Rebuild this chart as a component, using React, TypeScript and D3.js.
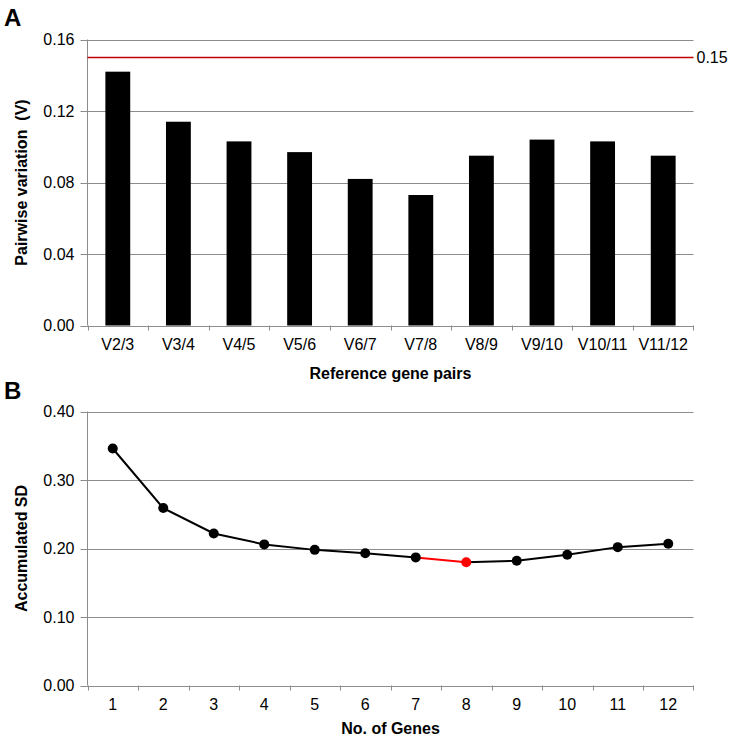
import React from "react";
import * as d3 from "d3";

const pairLabels = ["V2/3", "V3/4", "V4/5", "V5/6", "V6/7", "V7/8", "V8/9", "V9/10", "V10/11", "V11/12"];
const pairValues = [0.142, 0.114, 0.103, 0.097, 0.082, 0.073, 0.095, 0.104, 0.103, 0.095];
const threshold = 0.15;
const yTicksA = [0, 0.04, 0.08, 0.12, 0.16];

const geneCounts = [1, 2, 3, 4, 5, 6, 7, 8, 9, 10, 11, 12];
const accumulatedSD = [0.346, 0.259, 0.222, 0.206, 0.198, 0.193, 0.187, 0.18, 0.182, 0.191, 0.202, 0.207];
const optimalIndex = 7;
const yTicksB = [0, 0.1, 0.2, 0.3, 0.4];

const W = 733;
const H = 740;
const FONT = "'Liberation Sans', Arial, sans-serif";
const GRID = "#8c8c8c";
const FS = 16;

export default function App() {
  const left = 87.5;
  const right = 693.5;

  // Panel A
  const aTop = 39.5;
  const aBottom = 325.5;
  const xA = d3.scaleBand<string>().domain(pairLabels).range([left, right]).paddingInner(0.59).paddingOuter(0.295);
  const xAb = d3.scaleBand<string>().domain(pairLabels).range([left, right]);
  const yA = d3.scaleLinear().domain([0, 0.16]).range([aBottom, aTop]);

  // Panel B
  const bTop = 411.5;
  const bBottom = 685.5;
  const xB = d3.scaleBand<number>().domain(geneCounts).range([left, right]);
  const yB = d3.scaleLinear().domain([0, 0.4]).range([bBottom, bTop]);
  const cx = (g: number) => (xB(g) as number) + xB.bandwidth() / 2;
  const pts = geneCounts.map((g, i) => [cx(g), yB(accumulatedSD[i])] as [number, number]);
  const line = d3.line();

  return (
    <svg width={W} height={H} style={{ display: "block", position: "absolute", left: 0, top: 0, background: "#fff" }} fontFamily={FONT}>
      <rect x={0} y={0} width={W} height={H} fill="#fff" />
      {/* Panel A */}
      <text x={4} y={26} fontSize={24} fontWeight="bold">A</text>
      {yTicksA.map((t) => (
        <g key={"ga" + t}>
          <line x1={left - 7} x2={right} y1={Math.round(yA(t)) + 0.5} y2={Math.round(yA(t)) + 0.5} stroke={GRID} strokeWidth={1} />
          <text x={left - 13} y={yA(t) + 5.5} fontSize={FS} textAnchor="end">{t.toFixed(2)}</text>
        </g>
      ))}
      <line x1={left} x2={left} y1={aTop} y2={aBottom} stroke={GRID} />
      {pairLabels.map((p, i) => (
        <rect key={p} x={xA(p)} y={yA(pairValues[i])} width={xA.bandwidth()} height={yA(0) - yA(pairValues[i])} fill="#000" />
      ))}
      {pairLabels.map((p) => (
        <line key={"ta" + p} x1={Math.round(xAb(p) as number) + 0.5} x2={Math.round(xAb(p) as number) + 0.5} y1={aBottom} y2={aBottom + 5} stroke={GRID} />
      ))}
      <line x1={right} x2={right} y1={aBottom} y2={aBottom + 5} stroke={GRID} />
      {pairLabels.map((p) => (
        <text key={"la" + p} x={(xAb(p) as number) + xAb.bandwidth() / 2} y={aBottom + 24} fontSize={FS} textAnchor="middle">{p}</text>
      ))}
      <line x1={left} x2={right} y1={yA(threshold)} y2={yA(threshold)} stroke="#c00000" strokeWidth={1.5} />
      <text x={right + 3} y={yA(threshold) + 5.5} fontSize={FS}>{threshold.toFixed(2)}</text>
      <text x={(left + right) / 2} y={379} fontSize={FS} fontWeight="bold" textAnchor="middle">Reference gene pairs</text>
      <text transform={`translate(27,${(aTop + aBottom) / 2}) rotate(-90)`} fontSize={FS} fontWeight="bold" textAnchor="middle" style={{ whiteSpace: "pre" }}>Pairwise variation  (V)</text>

      {/* Panel B */}
      <text x={4} y={399} fontSize={24} fontWeight="bold">B</text>
      {yTicksB.map((t) => (
        <g key={"gb" + t}>
          <line x1={left - 7} x2={right} y1={Math.round(yB(t)) + 0.5} y2={Math.round(yB(t)) + 0.5} stroke={GRID} strokeWidth={1} />
          <text x={left - 13} y={yB(t) + 5.5} fontSize={FS} textAnchor="end">{t.toFixed(2)}</text>
        </g>
      ))}
      <line x1={left} x2={left} y1={bTop} y2={bBottom} stroke={GRID} />
      {geneCounts.map((g) => (
        <line key={"tb" + g} x1={Math.round(xB(g) as number) + 0.5} x2={Math.round(xB(g) as number) + 0.5} y1={bBottom} y2={bBottom + 5} stroke={GRID} />
      ))}
      <line x1={right} x2={right} y1={bBottom} y2={bBottom + 5} stroke={GRID} />
      {geneCounts.map((g) => (
        <text key={"lb" + g} x={cx(g)} y={bBottom + 24} fontSize={FS} textAnchor="middle">{g}</text>
      ))}
      <path d={line(pts.slice(0, optimalIndex)) || ""} fill="none" stroke="#000" strokeWidth={2} />
      <path d={line(pts.slice(optimalIndex - 1, optimalIndex + 1)) || ""} fill="none" stroke="#ff0000" strokeWidth={2} />
      <path d={line(pts.slice(optimalIndex)) || ""} fill="none" stroke="#000" strokeWidth={2} />
      {pts.map((p, i) => (
        <circle key={"c" + i} cx={p[0]} cy={p[1]} r={5} fill={i === optimalIndex ? "#ff0000" : "#000"} />
      ))}
      <text x={(left + right) / 2} y={734} fontSize={FS} fontWeight="bold" textAnchor="middle">No. of Genes</text>
      <text transform={`translate(27,${(bTop + bBottom) / 2}) rotate(-90)`} fontSize={FS} fontWeight="bold" textAnchor="middle">Accumulated SD</text>
    </svg>
  );
}
